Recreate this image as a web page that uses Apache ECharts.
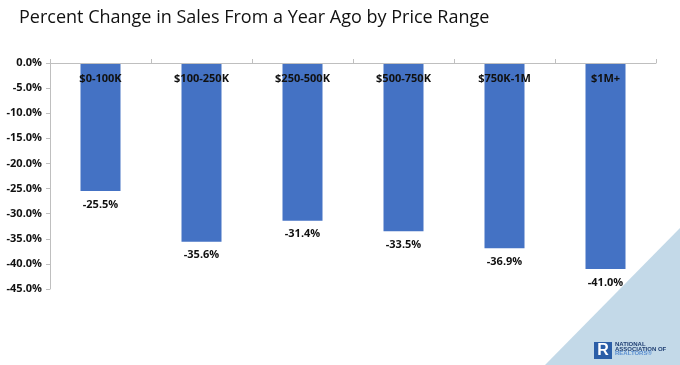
<!DOCTYPE html>
<html><head><meta charset="utf-8">
<script src="https://cdn.jsdelivr.net/npm/echarts@6/dist/echarts.min.js"></script>
<style>html,body{margin:0;padding:0;background:#fff}#c{width:680px;height:365px}</style>
</head><body><div id="c"></div>
<script>
const categories = ['$0-100K', '$100-250K', '$250-500K', '$500-750K', '$750K-1M', '$1M+'];
const values = [-25.5, -35.6, -31.4, -33.5, -36.9, -41.0];
const yMin = -45, yMax = 0, yStep = 5;

const chart = echarts.init(document.getElementById('c'), null, {renderer: 'canvas'});
const font = '"Open Sans", "Noto Sans", sans-serif';
chart.setOption({
  animation: false,
  backgroundColor: '#fff',
  title: {
    text: 'Percent Change in Sales From a Year Ago by Price Range',
    left: 14, top: 4,
    textStyle: {fontFamily: font, fontSize: 18, fontWeight: 'normal', color: '#111'}
  },
  graphic: [
    {type: 'polygon', shape: {points: [[680, 228], [680, 365], [545, 365]]}, style: {fill: '#c3d9e8'}, z: -1},
    {type: 'rect', shape: {x: 594, y: 342, width: 18, height: 17}, style: {fill: '#2b5ea7'}},
    {type: 'text', style: {x: 603, y: 350.5, text: 'R', fill: '#fff', font: 'bold 16px "Liberation Sans"', textAlign: 'center', textVerticalAlign: 'middle'}},
    {type: 'text', x: 615, y: 345, scaleX: 1.2, style: {x: 0, y: 0, text: 'NATIONAL', fill: '#1f3f73', font: 'bold 5px "Liberation Sans"', textVerticalAlign: 'middle'}},
    {type: 'text', x: 615, y: 349.4, scaleX: 1.2, style: {x: 0, y: 0, text: 'ASSOCIATION OF', fill: '#1f3f73', font: 'bold 5px "Liberation Sans"', textVerticalAlign: 'middle'}},
    {type: 'text', x: 615, y: 353.8, scaleX: 1.2, style: {x: 0, y: 0, text: 'REALTORS®', fill: '#5b8fd0', font: 'bold 5px "Liberation Sans"', textVerticalAlign: 'middle'}}
  ],
  grid: {left: 50, right: 24, top: 63, bottom: 76},
  xAxis: {
    type: 'category', data: categories, position: 'top',
    axisLine: {lineStyle: {color: '#bfbfbf'}},
    axisTick: {show: true, length: 4, lineStyle: {color: '#bfbfbf'}},
    axisLabel: {inside: true, margin: 10, fontFamily: font, fontSize: 11, fontWeight: 'bold', color: '#111'},
    z: 5
  },
  yAxis: {
    type: 'value', min: yMin, max: yMax, interval: yStep,
    axisLine: {show: true, lineStyle: {color: '#bfbfbf'}},
    axisTick: {show: true, length: 4, lineStyle: {color: '#bfbfbf'}},
    splitLine: {show: false},
    axisLabel: {formatter: v => v.toFixed(1) + '%', fontFamily: font, fontSize: 11, fontWeight: 'bold', color: '#111', margin: 8}
  },
  series: [{
    type: 'bar', data: values, barWidth: 40,
    itemStyle: {color: '#4472c4'},
    label: {show: true, position: 'bottom', distance: 8, formatter: p => p.value.toFixed(1) + '%', fontFamily: font, fontSize: 11, fontWeight: 'bold', color: '#111'}
  }]
});
</script></body></html>
